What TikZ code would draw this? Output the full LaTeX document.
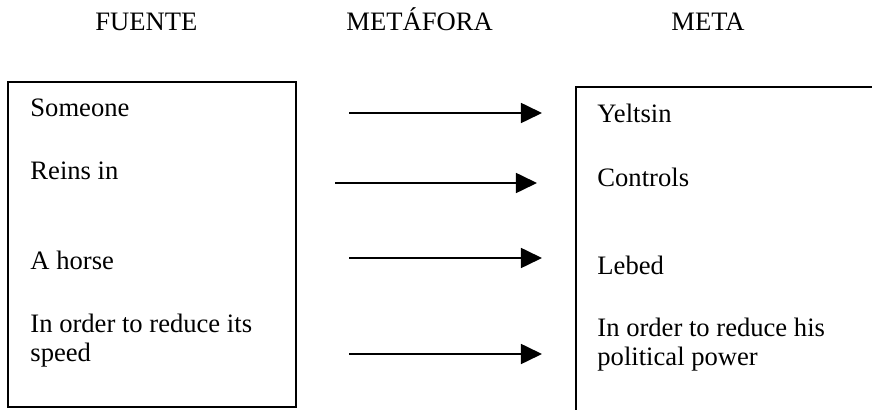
\documentclass[tikz,border=0pt]{standalone}
\usepackage{fontspec}
\setmainfont{Liberation Serif}
\usetikzlibrary{arrows.meta}
\begin{document}
\begin{tikzpicture}[x=0.451pt,y=-0.451pt,
  label/.style={anchor=base west,inner sep=0pt,font=\fontsize{12pt}{13.1pt}\selectfont},
  % two-line labels: the base anchor sits on the last line
  wrapped/.style={label,align=left},
  frame/.style={line width=0.9pt},
  maparrow/.style={line width=0.9pt,-{Triangle[length=9.5pt,width=9pt]}}]
\useasboundingbox (0,0) rectangle (872,410);

% column headings
\node[label] (hsrc) at (95,31) {FUENTE};
\node[label] (hmet) at (346,31) {METÁFORA};
\node[label] (htgt) at (671,31) {META};

% source domain box
\draw[frame] (8,82) rectangle (296,407);
\node[label] (s1) at (30,117) {Someone};
\node[label] (s2) at (30,180) {Reins in};
\node[label] (s3) at (30,270) {A horse};
\node[wrapped] (s4) at (30,362) {In order to reduce its\\speed};

% target domain box (open towards the right and bottom)
\draw[frame] (872,87) -- (576,87) -- (576,410);
\node[label] (t1) at (597,123) {Yeltsin};
\node[label] (t2) at (597,187) {Controls};
\node[label] (t3) at (597,275) {Lebed};
\node[wrapped] (t4) at (597,366) {In order to reduce his\\political power};

% mapping arrows
\coordinate (m1a) at (349,113); \coordinate (m1b) at (542,113);
\coordinate (m2a) at (335,183); \coordinate (m2b) at (537,183);
\coordinate (m3a) at (349,258); \coordinate (m3b) at (542,258);
\coordinate (m4a) at (349,354); \coordinate (m4b) at (542,354);
\draw[maparrow] (m1a) -- (m1b);
\draw[maparrow] (m2a) -- (m2b);
\draw[maparrow] (m3a) -- (m3b);
\draw[maparrow] (m4a) -- (m4b);
\end{tikzpicture}
\end{document}
